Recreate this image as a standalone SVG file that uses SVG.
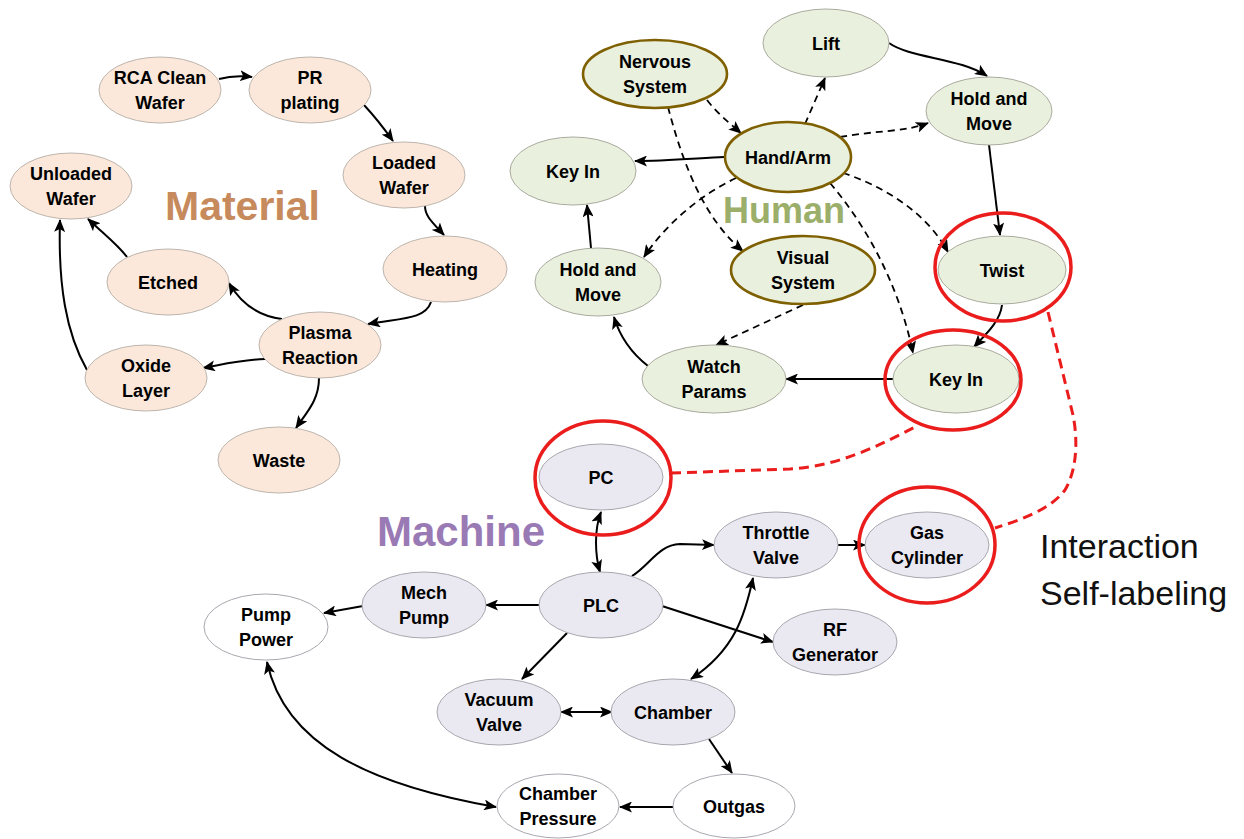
<svg xmlns="http://www.w3.org/2000/svg" width="1244" height="839" viewBox="0 0 1244 839">
<defs>
<style>
.t{font-family:"Liberation Sans",Arial,sans-serif;font-weight:bold;font-size:18px;text-anchor:middle;fill:#000}
.mat{fill:#FBE8DA;stroke:#bdb5ad;stroke-width:1}
.hum{fill:#EAF0DE;stroke:#a9ab9f;stroke-width:1}
.humo{fill:#EAF0DE;stroke:#7F6000;stroke-width:2.6}
.mac{fill:#EAE8F0;stroke:#a9a7ae;stroke-width:1}
.wht{fill:#fff;stroke:#a9a7ae;stroke-width:1}
.red{fill:none;stroke:#EA1C1C;stroke-width:3.5}
.s{fill:none;stroke:#000;stroke-width:2;marker-end:url(#ah)}
.d{fill:none;stroke:#000;stroke-width:1.8;stroke-dasharray:7 5;marker-end:url(#ah)}
.b{marker-start:url(#ah)}
.rd{fill:none;stroke:#EA1C1C;stroke-width:3;stroke-dasharray:10 6}
.big{font-family:"Liberation Sans",Arial,sans-serif;font-weight:bold}
</style>
<marker id="ah" viewBox="0 0 13 11" refX="12" refY="5.5" markerWidth="13" markerHeight="11" markerUnits="userSpaceOnUse" orient="auto-start-reverse">
<path d="M0,0 L13,5.5 L0,11 L3,5.5 z" fill="#000"/>
</marker>
</defs>
<rect width="1244" height="839" fill="#fff"/>

<g id="labels">
<text class="big" x="165" y="220" font-size="41" fill="#C78A5C">Material</text>
<text class="big" x="723" y="223" font-size="36" fill="#9BAF6B">Human</text>
<text class="big" x="377" y="546" font-size="42" fill="#9A7AB4">Machine</text>
<text x="1040" y="558" font-family="Liberation Sans,Arial,sans-serif" font-size="34" fill="#111">Interaction</text>
<text x="1040" y="605" font-family="Liberation Sans,Arial,sans-serif" font-size="34" fill="#111">Self-labeling</text>
</g>

<g id="connectors">
<path class="s" d="M219,79 Q234,75 252,77"/>
<path class="s" d="M364,105 Q378,120 393,141"/>
<path class="s" d="M425,206 C425,216 432,222 444,235"/>
<path class="s" d="M431,302 C425,320 400,318 368,324"/>
<path class="s" d="M282,319 C258,316 240,302 229,283"/>
<path class="s" d="M265,359 C240,360 225,364 203,368"/>
<path class="s" d="M319,378 C319,400 307,412 296,428"/>
<path class="s" d="M127,257 C118,245 105,235 88,219"/>
<path class="s" d="M87,370 C66,333 58,285 60,220"/>

<path class="d" d="M707,100 C717,113 728,122 741,133"/>
<path class="d" d="M668,107 C683,165 705,220 743,251"/>
<path class="d" d="M805,124 L825,78"/>
<path class="s" d="M724,157 C700,158 665,161 635,161"/>
<path class="d" d="M736,178 C700,195 665,225 644,257"/>
<path class="d" d="M840,137 C880,130 905,132 928,123"/>
<path class="d" d="M843,173 C880,185 925,210 948,252"/>
<path class="d" d="M830,183 C870,230 900,290 913,353"/>
<path class="d" d="M803,305 L716,345"/>
<path class="s" d="M648,366 C630,352 620,337 614,317"/>
<path class="s" d="M591,248 L587,205"/>
<path class="s" d="M893,379 L786,379"/>
<path class="s" d="M889,43 C910,58 960,58 987,76"/>
<path class="s" d="M989,145 C993,180 997,210 1000,235"/>
<path class="s" d="M1002,305 C1000,322 985,335 974,347"/>

<path class="s b" d="M601,512 C594,530 595,555 600,572"/>
<path class="s" d="M632,576 C650,565 658,545 680,544 L714,545"/>
<path class="s" d="M541,605 L486,605"/>
<path class="s" d="M363,606 L324,613"/>
<path class="s" d="M662,606 L773,642"/>
<path class="s" d="M567,633 L522,679"/>
<path class="s b" d="M561,712 L612,712"/>
<path class="s b" d="M753,578 C745,615 735,650 691,679"/>
<path class="s" d="M709,739 L732,773"/>
<path class="s" d="M673,807 L620,807"/>
<path class="s b" d="M267,662 C285,745 370,785 496,807"/>
<path class="s" d="M838,545 L865,545"/>

<path class="rd" d="M671,473 L790,469 C840,466 880,445 917,426"/>
<path class="rd" d="M1048,312 L1073,415 C1078,440 1077,470 1065,490 C1050,510 1020,520 995,528"/>
</g>

<g id="m-rca"><ellipse class="mat" cx="160" cy="90" rx="61" ry="33"/><text class="t" x="160" y="84">RCA Clean</text><text class="t" x="160" y="109">Wafer</text></g>
<g id="m-pr"><ellipse class="mat" cx="310" cy="90" rx="61" ry="33"/><text class="t" x="310" y="84">PR</text><text class="t" x="310" y="109">plating</text></g>
<g id="m-loaded"><ellipse class="mat" cx="404" cy="175" rx="61" ry="33"/><text class="t" x="404" y="169">Loaded</text><text class="t" x="404" y="194">Wafer</text></g>
<g id="m-heating"><ellipse class="mat" cx="445" cy="269" rx="62" ry="33"/><text class="t" x="445" y="276">Heating</text></g>
<g id="m-plasma"><ellipse class="mat" cx="320" cy="345" rx="61" ry="33"/><text class="t" x="320" y="339">Plasma</text><text class="t" x="320" y="364">Reaction</text></g>
<g id="m-etched"><ellipse class="mat" cx="168" cy="282" rx="61" ry="33"/><text class="t" x="168" y="289">Etched</text></g>
<g id="m-oxide"><ellipse class="mat" cx="146" cy="378" rx="61" ry="33"/><text class="t" x="146" y="372">Oxide</text><text class="t" x="146" y="397">Layer</text></g>
<g id="m-unloaded"><ellipse class="mat" cx="71" cy="186" rx="61" ry="33"/><text class="t" x="71" y="180">Unloaded</text><text class="t" x="71" y="205">Wafer</text></g>
<g id="m-waste"><ellipse class="mat" cx="279" cy="460" rx="61" ry="33"/><text class="t" x="279" y="467">Waste</text></g>

<g id="h-lift"><ellipse class="hum" cx="826" cy="43" rx="63" ry="34"/><text class="t" x="826" y="50">Lift</text></g>
<g id="h-nervous"><ellipse class="humo" cx="655" cy="74" rx="72" ry="34"/><text class="t" x="655" y="68">Nervous</text><text class="t" x="655" y="93">System</text></g>
<g id="h-hand"><ellipse class="humo" cx="788" cy="157" rx="63" ry="35"/><text class="t" x="788" y="164">Hand/Arm</text></g>
<g id="h-keyin1"><ellipse class="hum" cx="573" cy="171" rx="63" ry="34"/><text class="t" x="573" y="178">Key In</text></g>
<g id="h-hold1"><ellipse class="hum" cx="598" cy="282" rx="63" ry="34"/><text class="t" x="598" y="276">Hold and</text><text class="t" x="598" y="301">Move</text></g>
<g id="h-visual"><ellipse class="humo" cx="803" cy="270" rx="72" ry="34"/><text class="t" x="803" y="264">Visual</text><text class="t" x="803" y="289">System</text></g>
<g id="h-watch"><ellipse class="hum" cx="714" cy="379" rx="72" ry="34"/><text class="t" x="714" y="373">Watch</text><text class="t" x="714" y="398">Params</text></g>
<g id="h-hold2"><ellipse class="hum" cx="989" cy="111" rx="63" ry="34"/><text class="t" x="989" y="105">Hold and</text><text class="t" x="989" y="130">Move</text></g>
<g id="h-twist"><ellipse class="hum" cx="1002" cy="270" rx="64" ry="34"/><text class="t" x="1002" y="277">Twist</text><ellipse class="red" cx="1003" cy="267" rx="68" ry="54"/></g>
<g id="h-keyin2"><ellipse class="hum" cx="956" cy="379" rx="63" ry="34"/><text class="t" x="956" y="386">Key In</text><ellipse class="red" cx="953" cy="380" rx="68" ry="50"/></g>

<g id="x-pc"><ellipse class="mac" cx="601" cy="477" rx="62" ry="33"/><text class="t" x="601" y="484">PC</text><ellipse class="red" cx="603" cy="478" rx="68" ry="57"/></g>
<g id="x-plc"><ellipse class="mac" cx="601" cy="605" rx="62" ry="33"/><text class="t" x="601" y="612">PLC</text></g>
<g id="x-mech"><ellipse class="mac" cx="424" cy="605" rx="62" ry="33"/><text class="t" x="424" y="599">Mech</text><text class="t" x="424" y="624">Pump</text></g>
<g id="x-pumppower"><ellipse class="wht" cx="266" cy="627" rx="62" ry="33"/><text class="t" x="266" y="621">Pump</text><text class="t" x="266" y="646">Power</text></g>
<g id="x-throttle"><ellipse class="mac" cx="776" cy="545" rx="62" ry="33"/><text class="t" x="776" y="539">Throttle</text><text class="t" x="776" y="564">Valve</text></g>
<g id="x-gas"><ellipse class="mac" cx="927" cy="545" rx="62" ry="33"/><text class="t" x="927" y="539">Gas</text><text class="t" x="927" y="564">Cylinder</text><ellipse class="red" cx="927" cy="545" rx="68" ry="58"/></g>
<g id="x-rf"><ellipse class="mac" cx="835" cy="642" rx="62" ry="33"/><text class="t" x="835" y="636">RF</text><text class="t" x="835" y="661">Generator</text></g>
<g id="x-vacuum"><ellipse class="mac" cx="499" cy="712" rx="62" ry="33"/><text class="t" x="499" y="706">Vacuum</text><text class="t" x="499" y="731">Valve</text></g>
<g id="x-chamber"><ellipse class="mac" cx="673" cy="712" rx="62" ry="33"/><text class="t" x="673" y="719">Chamber</text></g>
<g id="x-cpressure"><ellipse class="wht" cx="558" cy="806" rx="61" ry="32"/><text class="t" x="558" y="800">Chamber</text><text class="t" x="558" y="825">Pressure</text></g>
<g id="x-outgas"><ellipse class="wht" cx="734" cy="806" rx="61" ry="32"/><text class="t" x="734" y="813">Outgas</text></g>
</svg>
